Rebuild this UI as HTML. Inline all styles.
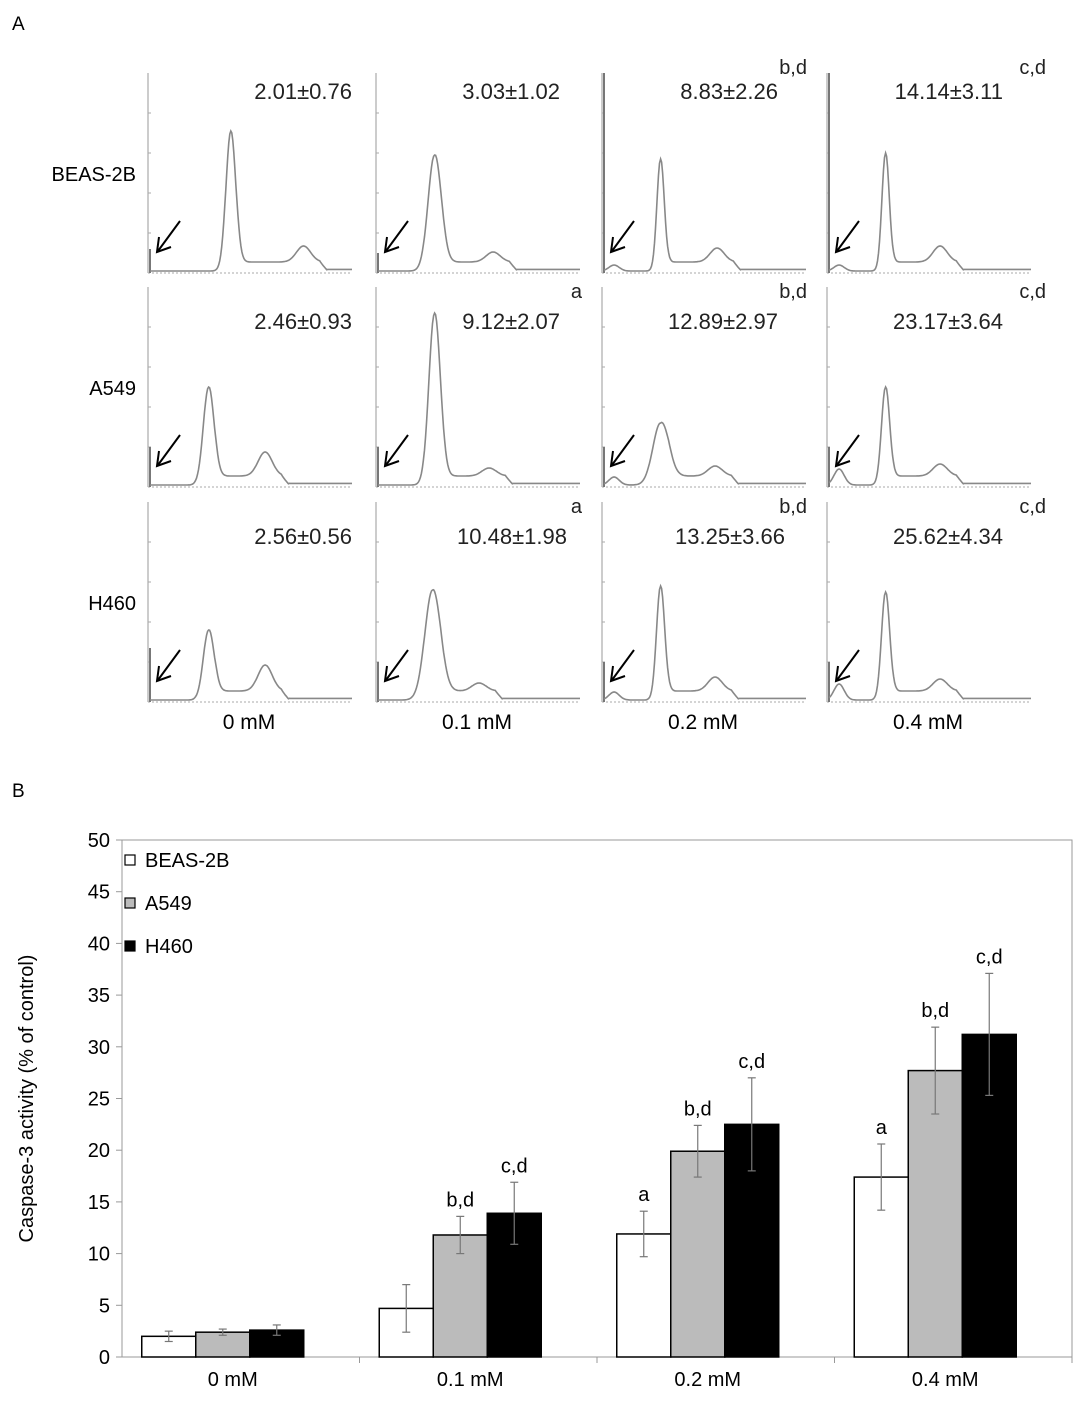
<!DOCTYPE html>
<html><head><meta charset="utf-8"><style>
body{margin:0;background:#fff;font-family:"Liberation Sans",Arial,sans-serif;}
svg text{font-family:"Liberation Sans",Arial,sans-serif;}
</style></head><body>
<svg id="fig" width="1084" height="1398" viewBox="0 0 1084 1398">
<text x="12" y="30" font-size="19">A</text>
<text x="12" y="797" font-size="19">B</text>
<g id="panelA"></g>
<g id="panelB"></g>
</svg>
<script>
const NS="http://www.w3.org/2000/svg";
function mk(t,a,p){const e=document.createElementNS(NS,t);for(const k in a)e.setAttribute(k,a[k]);p.appendChild(e);return e;}
// ---------- Panel A data ----------
const cellLines=["BEAS-2B","A549","H460"];
const doses=["0 mM","0.1 mM","0.2 mM","0.4 mM"];
const subG1Values=[["2.01±0.76","3.03±1.02","8.83±2.26","14.14±3.11"],["2.46±0.93","9.12±2.07","12.89±2.97","23.17±3.64"],["2.56±0.56","10.48±1.98","13.25±3.66","25.62±4.34"]];
const sigLabels=[["","","b,d","c,d"],["","a","b,d","c,d"],["","a","b,d","c,d"]];
const g1Pos=[[0.4,0.28,0.28,0.28],[0.29,0.28,0.28,0.28],[0.29,0.27,0.28,0.28]];
const g1Height=[[0.7,0.58,0.56,0.59],[0.49,0.86,0.31,0.49],[0.35,0.55,0.57,0.54]];
const g1Width=[[0.024,0.032,0.018,0.018],[0.026,0.028,0.038,0.02],[0.026,0.038,0.02,0.02]];
const g2Pos=[[0.76,0.57,0.56,0.55],[0.57,0.55,0.55,0.55],[0.57,0.5,0.55,0.55]];
const g2Height=[[0.08,0.05,0.07,0.08],[0.12,0.04,0.05,0.06],[0.13,0.04,0.07,0.06]];
const subG1Hump=[[0,0,0.03,0.03],[0,0,0.04,0.08],[0,0,0.04,0.08]];
const spikeHeight=[[0.12,0.1,1,1],[0.2,0.2,0.2,0.2],[0.27,0.2,0.2,0.2]];
const colX=[148,376,602,827], colW=202, rowTop=[73,287,502], rowH=200;
const valRight=[[352,560,778,1003],[352,560,778,1003],[352,567,785,1003]];
const valOff=[26,42,42], sigOff=[1,11,11], sigRight=[354,582,807,1046];
const A=document.getElementById('panelA');
cellLines.forEach((cl,r)=>{
  const t=mk('text',{x:136,y:rowTop[r]+108,'font-size':20,'text-anchor':'end'},A);t.textContent=cl;
  
  
  doses.forEach((d,c)=>{
    const x0=colX[c],y0=rowTop[r],yb=y0+rowH;
    const g=mk('g',{},A);
    
    
    mk('line',{x1:x0,y1:y0,x2:x0,y2:yb,stroke:'#aaa','stroke-width':1.2},g);
    for(let k=1;k<5;k++)mk('line',{x1:x0,y1:yb-k*rowH/5,x2:x0+3,y2:yb-k*rowH/5,stroke:'#aaa','stroke-width':1},g);
    mk('line',{x1:x0,y1:yb,x2:x0+colW+2,y2:yb,stroke:'#aaa','stroke-width':1,'stroke-dasharray':'2,2'},g);
    mk('line',{x1:x0+2,y1:yb-spikeHeight[r][c]*rowH,x2:x0+2,y2:yb,stroke:'#777','stroke-width':2},g);
    let pts=[];
    for(let i=0;i<=200;i++){const f=i/200;
      let v=g1Height[r][c]*Math.exp(-Math.pow((f-g1Pos[r][c])/g1Width[r][c],2)/2)
       +g2Height[r][c]*Math.exp(-Math.pow((f-g2Pos[r][c])/0.035,2)/2)
       +subG1Hump[r][c]*Math.exp(-Math.pow((f-0.05)/0.025,2)/2);
      const a=g1Pos[r][c], b=g2Pos[r][c]+0.12;
      if(f>a&&f<b)v+=0.045*Math.min(1,(f-a)/0.04)*Math.min(1,(b-f)/0.04);
      if(f>=b)v+=0.008;
      pts.push((x0+2+f*colW).toFixed(1)+','+(yb-2-v*rowH).toFixed(1));}
    mk('polyline',{points:pts.join(' '),fill:'none',stroke:'#888','stroke-width':1.6},g);
    const ax=x0+32,ay=yb-52;
    mk('line',{x1:ax,y1:ay,x2:ax-22,y2:ay+30,stroke:'#000','stroke-width':2},g);
    mk('polyline',{points:`${ax-21},${ay+16} ${ax-23},${ay+31} ${ax-9},${ay+26}`,fill:'none',stroke:'#000','stroke-width':2},g);
    const vt=mk('text',{x:valRight[r][c],y:y0+valOff[r],'font-size':22,'text-anchor':'end',fill:'#222'},g);vt.textContent=subG1Values[r][c];
    
    
    if(sigLabels[r][c]){const st=mk('text',{x:sigRight[c],y:y0+sigOff[r],'font-size':20,'text-anchor':'end',fill:'#222'},g);st.textContent=sigLabels[r][c];
      
      }
  });
});
doses.forEach((d,c)=>{const t=mk('text',{x:colX[c]+colW/2,y:729,'font-size':21,'text-anchor':'middle'},A);t.textContent=d;
  
  });
// ---------- Panel B data ----------
const categories=["0 mM","0.1 mM","0.2 mM","0.4 mM"];
const seriesNames=["BEAS-2B","A549","H460"];
const beasValues=[2.0,4.7,11.9,17.4];
const a549Values=[2.4,11.8,19.9,27.7];
const h460Values=[2.6,13.9,22.5,31.2];
const beasErr=[0.5,2.3,2.2,3.2];
const a549Err=[0.3,1.8,2.5,4.2];
const h460Err=[0.5,3.0,4.5,5.9];
const beasSig=["","","a","a"];
const a549Sig=["","b,d","b,d","b,d"];
const h460Sig=["","c,d","c,d","c,d"];
const yTicks=[0,5,10,15,20,25,30,35,40,45,50];
const fills=["#fff","#bbb","#000"];
const B=document.getElementById('panelB');
const L=122,R=1072,T=840,Bt=1357;
const yS=v=>Bt-(v/50)*(Bt-T);
const gW=(R-L)/4, barW=54;
const xC=i=>L+gW*(i+0.5)-18;
const xL=i=>L+gW*(i+0.5)-8;
mk('rect',{x:L,y:T,width:R-L,height:Bt-T,fill:'none',stroke:'#999','stroke-width':1},B);
yTicks.forEach(v=>{mk('line',{x1:L-6,y1:yS(v),x2:L,y2:yS(v),stroke:'#999'},B);
  const t=mk('text',{x:L-12,y:yS(v)+7,'font-size':20,'text-anchor':'end'},B);t.textContent=v;
  
  });
const yt=mk('text',{x:0,y:0,'font-size':20,'text-anchor':'middle',transform:`translate(33,${(T+Bt)/2}) rotate(-90)`},B);
yt.textContent="Caspase-3 activity (% of control)";


categories.forEach((c,i)=>{const t=mk('text',{x:xL(i),y:1386,'font-size':20,'text-anchor':'middle'},B);t.textContent=c;
  
  
  mk('line',{x1:L+gW*(i+1),y1:Bt,x2:L+gW*(i+1),y2:Bt+6,stroke:'#999'},B);});
const allV=[beasValues,a549Values,h460Values],allE=[beasErr,a549Err,h460Err],allS=[beasSig,a549Sig,h460Sig];
allV.forEach((vals,s)=>vals.forEach((v,i)=>{
  const x=xC(i)+(s-1)*barW-barW/2;
  const b=mk('rect',{x:x,y:yS(v),width:barW,height:Bt-yS(v),fill:fills[s],stroke:'#000','stroke-width':1.5},B);
  
  
  const e=allE[s][i],cx=x+barW/2;
  mk('line',{x1:cx,y1:yS(v+e),x2:cx,y2:yS(v-e),stroke:'#777','stroke-width':1.2},B);
  mk('line',{x1:cx-4,y1:yS(v+e),x2:cx+4,y2:yS(v+e),stroke:'#777','stroke-width':1.2},B);
  mk('line',{x1:cx-4,y1:yS(v-e),x2:cx+4,y2:yS(v-e),stroke:'#777','stroke-width':1.2},B);
  if(allS[s][i]){const t=mk('text',{x:cx,y:yS(v+e)-10,'font-size':20,'text-anchor':'middle'},B);t.textContent=allS[s][i];
    
    }
}));
seriesNames.forEach((n,s)=>{const y=860+s*43;
  const g=mk('g',{},B);
  
  
  mk('rect',{x:125,y:y-5,width:10,height:10,fill:fills[s],stroke:'#000','stroke-width':1.2},g);
  const t=mk('text',{x:145,y:y+7,'font-size':20},g);t.textContent=n;});
</script>
</body></html>
